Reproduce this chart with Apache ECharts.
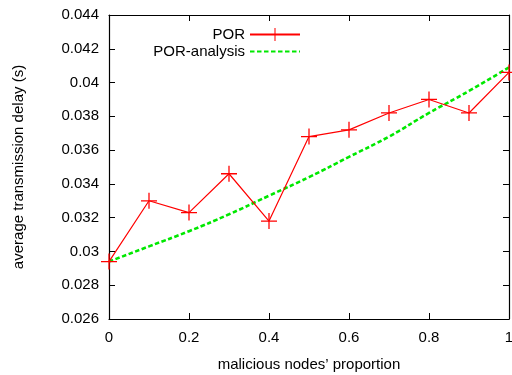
<!DOCTYPE html>
<html>
<head>
<meta charset="utf-8">
<script src="https://cdn.jsdelivr.net/npm/echarts@6/dist/echarts.min.js"></script>
<style>
  html, body {margin: 0; padding: 0; background: #fff;}
  #chart {width: 512px; height: 375px;}
</style>
</head>
<body>
<div id="chart"></div>
<script>
  // data
  const proportion = [0, 0.1, 0.2, 0.3, 0.4, 0.5, 0.6, 0.7, 0.8, 0.9, 1.0]
  const porDelay = [0.0294, 0.0330, 0.0323, 0.0346, 0.0318, 0.0368, 0.0372, 0.0382, 0.0390, 0.0382, 0.0406]
  const analysisDelay = [0.0294, 0.0303, 0.0312, 0.0322, 0.0333, 0.0344, 0.0356, 0.0368, 0.0382, 0.0395, 0.0409]

  const font = 'Liberation Sans, Arial, Helvetica, sans-serif'
  const plus = 'path://M0,4.6H10V5.4H0Z M4.6,0H5.4V10H4.6Z'

  const myChart = echarts.init(document.getElementById('chart'))

  const baseX = {
    type: 'value', min: 0, max: 1, interval: 0.2,
    axisLine: {onZero: false, lineStyle: {color: '#000', width: 1.2}},
    axisTick: {inside: true, length: 6, lineStyle: {color: '#000'}},
    splitLine: {show: false}
  }
  const baseY = {
    type: 'value', min: 0.026, max: 0.044, interval: 0.002,
    axisLine: {show: true, onZero: false, lineStyle: {color: '#000', width: 1.2}},
    axisTick: {show: true, inside: true, length: 6, lineStyle: {color: '#000'}},
    splitLine: {show: false}
  }

  myChart.setOption({
    animation: false,
    textStyle: {fontFamily: font},
    grid: {left: 109, right: 3, top: 15, bottom: 56, outerBoundsMode: 'none', containLabel: false},
    legend: [{
      data: ['POR'],
      right: 206, top: 22,
      align: 'right',
      itemWidth: 50, itemHeight: 16,
      textStyle: {fontSize: 15, color: '#000', fontFamily: font}
    }, {
      data: [{name: 'POR-analysis', itemStyle: {opacity: 0}}],
      right: 206, top: 39,
      align: 'right',
      itemWidth: 50, itemHeight: 16,
      textStyle: {fontSize: 15, color: '#000', fontFamily: font}
    }],
    xAxis: [Object.assign({}, baseX, {
      position: 'bottom',
      name: 'malicious nodes’ proportion',
      nameLocation: 'middle', nameGap: 38,
      nameTextStyle: {fontSize: 15, color: '#000', fontFamily: font},
      axisLabel: {fontSize: 15, color: '#000', margin: 11, fontFamily: font}
    }), Object.assign({}, baseX, {
      position: 'top',
      axisLabel: {show: false}
    })],
    yAxis: [Object.assign({}, baseY, {
      position: 'left',
      name: 'average transmission delay (s)',
      nameLocation: 'middle', nameGap: 83,
      nameTextStyle: {fontSize: 15, color: '#000', fontFamily: font},
      axisLabel: {fontSize: 15, color: '#000', margin: 10, fontFamily: font,
        formatter: v => String(+v.toFixed(3))}
    }), Object.assign({}, baseY, {
      position: 'right',
      axisLabel: {show: false}
    })],
    series: [{
      name: 'POR',
      type: 'line',
      data: proportion.map((x, i) => [x, porDelay[i]]),
      symbol: plus, symbolSize: 16,
      showAllSymbol: true,
      itemStyle: {color: '#ff0000'},
      lineStyle: {color: '#ff0000', width: 1.2},
      z: 3
    }, {
      name: 'POR-analysis',
      type: 'line',
      data: proportion.map((x, i) => [x, analysisDelay[i]]),
      smooth: true,
      symbol: 'none',
      itemStyle: {color: '#00e800'},
      lineStyle: {color: '#00e800', width: 2.6, type: [4.5, 2.5]},
      z: 2
    }]
  })
</script>
</body>
</html>
